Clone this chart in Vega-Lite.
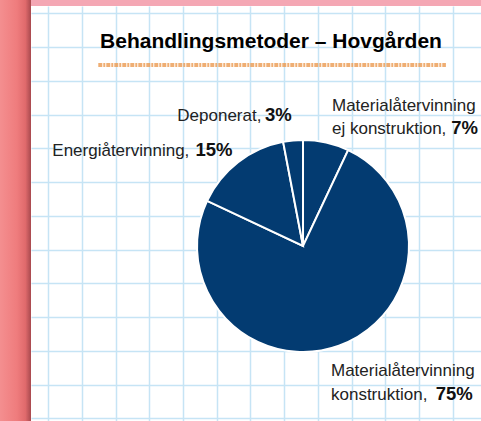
{
  "$schema": "https://vega.github.io/schema/vega-lite/v6.json",
  "width": 450,
  "height": 415,
  "autosize": "none",
  "padding": {"left": 31, "top": 6, "right": 0, "bottom": 0},
  "background": "#f4a7b4",
  "config": {
    "view": {"stroke": null, "fill": "#ffffff"},
    "font": "Liberation Sans",
    "text": {"font": "Liberation Sans"},
    "axis": {"grid": true, "gridColor": "#c6e4f5", "gridWidth": 1.5, "labels": false, "ticks": false, "domain": false}
  },
  "title": {
    "text": "Behandlingsmetoder – Hovgården",
    "font": "Liberation Sans",
    "fontSize": 21,
    "fontWeight": "bold",
    "color": "#000000",
    "anchor": "middle",
    "frame": "group",
    "orient": "top",
    "offset": 0,
    "baseline": "alphabetic",
    "dx": 15,
    "dy": 69
  },
  "data": {
    "values": [
      {"method": "Materialåtervinning ej konstruktion", "label": "Materialåtervinning\nej konstruktion,", "share": 0.07, "idx": 1},
      {"method": "Materialåtervinning konstruktion", "label": "Materialåtervinning\nkonstruktion,", "share": 0.75, "idx": 2},
      {"method": "Energiåtervinning", "label": "Energiåtervinning,", "share": 0.15, "idx": 3},
      {"method": "Deponerat", "label": "Deponerat,", "share": 0.03, "idx": 4}
    ]
  },
  "layer": [
    {
      "mark": {"type": "arc", "outerRadius": 106, "color": "#033b71", "stroke": "#ffffff", "strokeWidth": 2},
      "encoding": {
        "theta": {"field": "share", "type": "quantitative", "stack": true},
        "order": {"field": "idx", "type": "quantitative", "sort": "ascending"},
        "x": {"datum": 7.556, "type": "quantitative", "title": null,
              "scale": {"domain": [-0.504, 12.83], "nice": false, "zero": false},
              "axis": {"values": [0,1,2,3,4,5,6,7,8,9,10,11,12], "title": null}},
        "y": {"datum": 6.895, "type": "quantitative", "title": null,
              "scale": {"domain": [-0.2163, 12.08], "nice": false, "zero": false, "reverse": true},
              "axis": {"values": [0,1,2,3,4,5,6,7,8,9,10,11,12], "title": null}},
        "tooltip": [{"field": "method"}, {"field": "share", "format": ".0%"}]
      }
    },
    {
      "transform": [{"filter": "datum.idx == 1"}],
      "mark": {"type": "rect", "color": {"gradient": "linear", "x1": 0, "x2": 1, "y1": 0, "y2": 0, "stops": [{"offset": 0, "color": "#f48f90"}, {"offset": 0.55, "color": "#ef7c7d"}, {"offset": 0.82, "color": "#e06a6c"}, {"offset": 1, "color": "#a8494e"}]}},
      "encoding": {
        "x": {"datum": -1.43, "type": "quantitative", "axis": {"values": [0,1,2,3,4,5,6,7,8,9,10,11,12], "title": null}},
        "x2": {"datum": -0.504},
        "y": {"datum": -0.4, "type": "quantitative", "axis": {"values": [0,1,2,3,4,5,6,7,8,9,10,11,12], "title": null}},
        "y2": {"datum": 12.1}
      }
    },
    {
      "transform": [{"filter": "datum.idx == 1"}],
      "mark": {"type": "rule", "color": "#eb9a50", "strokeWidth": 4, "strokeDash": [4, 1, 2, 1], "opacity": 0.8},
      "encoding": {
        "x": {"datum": 1.49, "type": "quantitative", "axis": {"values": [0,1,2,3,4,5,6,7,8,9,10,11,12], "title": null}},
        "x2": {"datum": 11.79},
        "y": {"datum": 1.532, "type": "quantitative", "axis": {"values": [0,1,2,3,4,5,6,7,8,9,10,11,12], "title": null}}
      }
    },
    {
      "transform": [{"filter": "datum.idx == 1"}],
      "mark": {"type": "text", "align": "left", "baseline": "alphabetic", "fontSize": 17, "lineBreak": "\n", "lineHeight": 23.6, "color": "#222222"},
      "encoding": {
        "x": {"datum": 8.415, "type": "quantitative", "axis": {"values": [0,1,2,3,4,5,6,7,8,9,10,11,12], "title": null}},
        "y": {"datum": 2.886, "type": "quantitative", "axis": {"values": [0,1,2,3,4,5,6,7,8,9,10,11,12], "title": null}},
        "text": {"field": "label"}
      }
    },
    {
      "transform": [{"filter": "datum.idx == 1"}],
      "mark": {"type": "text", "align": "left", "baseline": "alphabetic", "fontSize": 18.5, "fontWeight": "bold", "color": "#111111"},
      "encoding": {
        "x": {"datum": 11.95, "type": "quantitative", "axis": {"values": [0,1,2,3,4,5,6,7,8,9,10,11,12], "title": null}},
        "y": {"datum": 3.585, "type": "quantitative", "axis": {"values": [0,1,2,3,4,5,6,7,8,9,10,11,12], "title": null}},
        "text": {"field": "share", "format": ".0%"}
      }
    },
    {
      "transform": [{"filter": "datum.idx == 2"}],
      "mark": {"type": "text", "align": "left", "baseline": "alphabetic", "fontSize": 17, "lineBreak": "\n", "lineHeight": 23.6, "color": "#222222"},
      "encoding": {
        "x": {"datum": 8.385, "type": "quantitative", "axis": {"values": [0,1,2,3,4,5,6,7,8,9,10,11,12], "title": null}},
        "y": {"datum": 10.76, "type": "quantitative", "axis": {"values": [0,1,2,3,4,5,6,7,8,9,10,11,12], "title": null}},
        "text": {"field": "label"}
      }
    },
    {
      "transform": [{"filter": "datum.idx == 2"}],
      "mark": {"type": "text", "align": "left", "baseline": "alphabetic", "fontSize": 18.5, "fontWeight": "bold", "color": "#111111"},
      "encoding": {
        "x": {"datum": 11.49, "type": "quantitative", "axis": {"values": [0,1,2,3,4,5,6,7,8,9,10,11,12], "title": null}},
        "y": {"datum": 11.458, "type": "quantitative", "axis": {"values": [0,1,2,3,4,5,6,7,8,9,10,11,12], "title": null}},
        "text": {"field": "share", "format": ".0%"}
      }
    },
    {
      "transform": [{"filter": "datum.idx == 3"}],
      "mark": {"type": "text", "align": "left", "baseline": "alphabetic", "fontSize": 17, "color": "#222222"},
      "encoding": {
        "x": {"datum": 0.127, "type": "quantitative", "axis": {"values": [0,1,2,3,4,5,6,7,8,9,10,11,12], "title": null}},
        "y": {"datum": 4.219, "type": "quantitative", "axis": {"values": [0,1,2,3,4,5,6,7,8,9,10,11,12], "title": null}},
        "text": {"field": "label"}
      }
    },
    {
      "transform": [{"filter": "datum.idx == 3"}],
      "mark": {"type": "text", "align": "left", "baseline": "alphabetic", "fontSize": 18.5, "fontWeight": "bold", "color": "#111111"},
      "encoding": {
        "x": {"datum": 4.37, "type": "quantitative", "axis": {"values": [0,1,2,3,4,5,6,7,8,9,10,11,12], "title": null}},
        "y": {"datum": 4.219, "type": "quantitative", "axis": {"values": [0,1,2,3,4,5,6,7,8,9,10,11,12], "title": null}},
        "text": {"field": "share", "format": ".0%"}
      }
    },
    {
      "transform": [{"filter": "datum.idx == 4"}],
      "mark": {"type": "text", "align": "left", "baseline": "alphabetic", "fontSize": 17, "color": "#222222"},
      "encoding": {
        "x": {"datum": 3.831, "type": "quantitative", "axis": {"values": [0,1,2,3,4,5,6,7,8,9,10,11,12], "title": null}},
        "y": {"datum": 3.182, "type": "quantitative", "axis": {"values": [0,1,2,3,4,5,6,7,8,9,10,11,12], "title": null}},
        "text": {"field": "label"}
      }
    },
    {
      "transform": [{"filter": "datum.idx == 4"}],
      "mark": {"type": "text", "align": "left", "baseline": "alphabetic", "fontSize": 18.5, "fontWeight": "bold", "color": "#111111"},
      "encoding": {
        "x": {"datum": 6.43, "type": "quantitative", "axis": {"values": [0,1,2,3,4,5,6,7,8,9,10,11,12], "title": null}},
        "y": {"datum": 3.182, "type": "quantitative", "axis": {"values": [0,1,2,3,4,5,6,7,8,9,10,11,12], "title": null}},
        "text": {"field": "share", "format": ".0%"}
      }
    }
  ]
}
